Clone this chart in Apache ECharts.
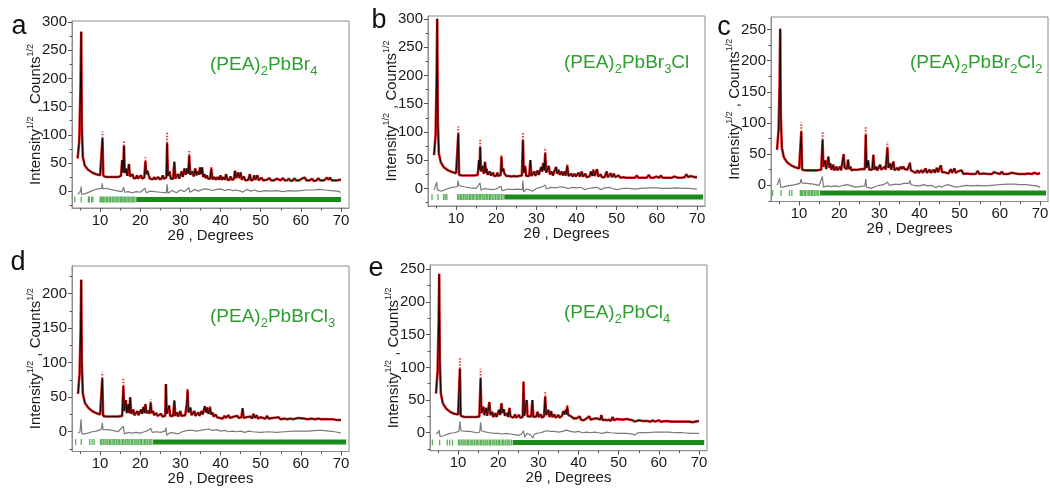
<!DOCTYPE html>
<html>
<head>
<meta charset="utf-8">
<script src="https://cdn.jsdelivr.net/npm/echarts@6/dist/echarts.min.js"></script>
<style>
html, body { margin: 0; padding: 0; background: #fff; }
#show { width: 1050px; height: 488px; }
</style>
</head>
<body>
<div id="show"></div>
<script>
var myChart = echarts.init(document.getElementById("show"));

// panel letters and compositions (rich text: s = subscript)
var letters = ["a", "b", "c", "d", "e"];
var formulas = [
    "{n|(PEA)}{s|2}{n|PbBr}{s|4}",
    "{n|(PEA)}{s|2}{n|PbBr}{s|3}{n|Cl}",
    "{n|(PEA)}{s|2}{n|PbBr}{s|2}{n|Cl}{s|2}",
    "{n|(PEA)}{s|2}{n|PbBrCl}{s|3}",
    "{n|(PEA)}{s|2}{n|PbCl}{s|4}"
];

// tick labels
var xTicks = [10, 20, 30, 40, 50, 60, 70];
var xMinor = [5, 15, 25, 35, 45, 55, 65];
var yTicksA = [0, 50, 100, 150, 200, 250, 300];
var yTicksB = [0, 50, 100, 150, 200, 250, 300];
var yTicksC = [0, 50, 100, 150, 200, 250];
var yTicksD = [0, 50, 100, 150, 200];
var yTicksE = [0, 50, 100, 150, 200, 250];
var yMinorA = [-25, 25, 75, 125, 175, 225, 275];
var yMinorB = [-25, 25, 75, 125, 175, 225, 275];
var yMinorC = [-25, 25, 75, 125, 175, 225];
var yMinorD = [-25, 25, 75, 125, 175, 225];
var yMinorE = [-25, 25, 75, 125, 175, 225];

// fitted profiles [2theta, sqrt(I)] (observed ~ calculated)
var profileA = [[4.4,58],[4.8,88],[5.1,180],[5.3,283],[5.45,115],[5.7,60],[6.2,45],[7,38],[8,33],[9,30],[10,28],[10.4,28],[10.6,94],[10.8,27],[11.5,25],[13,25],[14.5,25],[15.2,27],[15.5,55],[15.7,33],[15.95,80],[16.15,32],[16.5,40],[16.75,27],[17.2,48],[17.45,26],[17.8,25],[18.1,30],[18.35,23],[18.9,23],[19.2,28],[19.45,22],[19.9,22],[20.2,28],[20.45,22],[21.0,24],[21.3,53],[21.5,30],[21.8,36],[22.1,28],[22.4,22],[23.2,21],[23.5,25],[23.8,21],[24.2,21],[24.5,25],[24.8,21],[25.3,22],[25.6,28],[25.9,22],[26.5,24],[26.7,85],[26.9,27],[27.3,35],[27.6,22],[28.2,22],[28.5,52],[28.75,22],[29.1,23],[29.4,30],[29.7,22],[30.0,24],[30.3,35],[30.6,25],[31.0,40],[31.3,29],[31.6,40],[31.95,31],[32.2,63],[32.45,29],[33.0,35],[33.3,26],[33.7,40],[34.0,28],[34.3,35],[34.6,29],[34.9,42],[35.15,30],[35.4,42],[35.7,25],[36.0,30],[36.3,23],[36.6,28],[36.9,22],[37.4,22],[37.7,40],[38.0,21],[38.5,25],[38.8,20],[39.3,25],[39.6,20],[40.0,28],[40.3,20],[40.7,25],[41.0,20],[41.4,30],[41.7,20],[42.2,20],[42.5,26],[42.8,20],[43.3,21],[43.6,36],[43.9,23],[44.4,33],[44.7,23],[45.0,33],[45.3,20],[45.8,26],[46.2,19],[46.9,20],[47.3,30],[47.6,19],[48.1,20],[48.4,28],[48.7,20],[49.2,28],[49.5,19],[50.2,24],[50.6,19],[51.5,20],[52.2,23],[52.6,19],[53.3,19],[54.0,22],[54.4,19],[55.0,19],[55.5,23],[56.0,19],[56.5,19],[57.0,22],[57.5,18],[58.0,19],[58.4,23],[58.8,19],[59.6,19],[60.2,22],[60.6,19],[61.0,24],[61.4,19],[62.2,19],[62.8,22],[63.2,18],[63.9,19],[64.4,23],[64.8,19],[65.8,19],[66.5,24],[66.9,20],[67.3,24],[67.7,19],[68.3,19],[68.7,22],[69.1,19],[69.6,20],[70.0,20]];
var profileB = [[4.5,59],[4.9,95],[5.15,200],[5.3,300],[5.45,120],[5.7,62],[6.2,46],[7,37],[8,32],[9,29],[10,27],[10.35,26],[10.55,97],[10.75,24],[11.5,23],[13,23],[14.5,23],[15.4,24],[15.7,50],[15.85,34],[16.0,73],[16.2,30],[16.6,40],[16.85,26],[17.2,47],[17.45,27],[17.6,35],[17.85,24],[18.4,30],[18.65,23],[19.2,28],[19.45,22],[20.0,22],[20.3,28],[20.55,22],[21.1,24],[21.3,56],[21.5,30],[21.8,35],[22.0,27],[22.2,30],[22.5,22],[23.2,22],[23.5,25],[23.8,21],[24.4,22],[24.7,25],[25.0,21],[25.6,22],[26.0,25],[26.4,23],[26.65,85],[26.85,28],[27.2,40],[27.45,22],[28.2,22],[28.5,50],[28.75,22],[29.2,22],[29.5,30],[29.75,22],[30.3,32],[30.6,24],[31.2,38],[31.45,30],[31.7,45],[31.95,32],[32.2,62],[32.45,28],[33.1,40],[33.35,25],[33.8,30],[34.1,23],[34.9,38],[35.2,26],[35.5,33],[35.8,24],[36.3,30],[36.6,23],[37.0,30],[37.3,23],[37.7,40],[38.0,22],[38.7,26],[39.0,21],[39.5,26],[39.8,21],[40.5,28],[40.8,21],[41.3,30],[41.6,21],[42.2,26],[42.5,20],[43.2,21],[43.6,30],[43.9,22],[44.2,33],[44.5,22],[45.1,34],[45.4,21],[46.0,25],[46.3,20],[47.0,20],[47.5,30],[47.8,20],[48.5,27],[48.8,20],[49.3,26],[49.6,20],[50.5,23],[50.9,19],[51.6,20],[52.0,23],[52.4,19],[53.1,19],[53.5,22],[53.9,19],[54.6,19],[55.0,23],[55.4,19],[56.1,19],[56.5,22],[56.9,19],[57.5,19],[58.0,24],[58.4,19],[59.3,19],[59.8,21],[60.2,19],[60.6,19],[61.0,23],[61.4,19],[62.1,19],[62.5,21],[62.9,19],[63.8,19],[64.3,21],[64.7,19],[65.3,19],[65.7,22],[66.1,19],[66.9,20],[67.4,25],[67.8,20],[68.5,22],[68.9,20],[69.4,20],[69.8,21],[70.0,20]];
var profileC = [[4.5,57],[4.9,90],[5.15,170],[5.3,251],[5.45,110],[5.7,60],[6.2,45],[7,37],[8,32],[9,29],[10,27],[10.35,27],[10.55,86],[10.75,25],[11.5,24],[13,24],[14.5,24],[15.5,25],[15.85,73],[16.05,30],[16.5,40],[16.75,26],[17.3,46],[17.55,28],[17.8,35],[18.05,25],[18.5,33],[18.75,24],[19.3,30],[19.55,24],[20.2,30],[20.45,24],[20.9,26],[21.1,50],[21.35,28],[21.6,30],[21.9,26],[22.2,41],[22.45,26],[22.8,30],[23.05,24],[23.6,25],[23.9,23],[24.6,25],[24.9,23],[25.5,26],[25.8,23],[26.4,26],[26.6,81],[26.8,28],[27.2,40],[27.45,25],[28.2,25],[28.5,49],[28.75,25],[29.2,30],[29.45,24],[30.2,33],[30.45,25],[31.3,30],[31.55,25],[31.8,28],[32.0,60],[32.25,28],[32.7,35],[32.95,25],[33.5,38],[33.75,24],[34.5,28],[34.75,24],[35.3,30],[35.55,26],[36.0,30],[36.25,26],[36.7,28],[36.95,25],[37.35,27],[37.6,35],[37.85,24],[38.3,21],[39.0,20],[39.5,24],[39.8,20],[40.5,24],[40.8,20],[41.5,27],[41.8,20],[42.5,25],[42.8,20],[43.5,25],[43.8,20],[44.3,28],[44.6,21],[45.3,32],[45.6,21],[46.2,21],[47.2,19],[47.8,26],[48.1,20],[48.7,27],[49.0,20],[49.5,22],[49.8,19],[50.5,24],[50.9,18],[51.6,19],[52.0,20],[52.8,18],[54.0,18],[54.5,23],[54.9,18],[56.0,19],[57.0,18],[58.0,18],[58.5,21],[58.9,18],[60.0,18],[60.5,22],[60.9,18],[62.0,18],[63.0,20],[63.4,18],[64.6,18],[65.0,20],[65.4,18],[66.5,18],[67.0,19],[68.0,18],[68.5,20],[68.9,18],[69.5,18],[70.0,20]];
var profileD = [[4.5,55],[4.9,85],[5.15,150],[5.3,220],[5.45,100],[5.7,55],[6.2,42],[7,35],[8,30],[9,27],[10,25],[10.35,25],[10.55,77],[10.75,23],[11.5,22],[13,22],[14.5,22],[15.5,23],[15.8,66],[16.0,30],[16.4,46],[16.65,27],[17.0,40],[17.25,27],[17.5,50],[17.75,26],[18.3,32],[18.55,24],[19.3,30],[19.55,24],[20.2,32],[20.45,26],[20.8,36],[21.05,27],[21.3,40],[21.55,27],[22.1,30],[22.35,26],[22.6,42],[22.85,27],[23.2,30],[23.45,24],[24.0,27],[24.3,23],[25.2,26],[25.5,22],[26.2,23],[26.4,69],[26.6,26],[27.2,38],[27.45,23],[28.2,23],[28.5,45],[28.75,23],[29.2,28],[29.45,22],[30.0,30],[30.25,23],[31.2,24],[31.6,40],[31.8,60],[32.0,28],[32.5,35],[32.75,24],[33.5,30],[33.75,23],[34.5,28],[34.75,23],[35.3,30],[35.55,25],[36.1,37],[36.4,28],[36.7,35],[36.95,26],[37.4,35],[37.65,25],[38.0,28],[38.25,22],[38.8,25],[39.1,21],[39.5,23],[39.8,20],[40.2,22],[40.5,19],[41.0,23],[41.3,20],[42.0,24],[42.3,20],[43.4,22],[43.7,20],[44.2,23],[44.5,20],[45.2,21],[45.5,34],[45.75,20],[46.3,21],[46.7,19],[47.5,22],[47.8,19],[48.2,26],[48.5,20],[49.0,24],[49.3,19],[50.0,21],[50.4,19],[51.2,19],[51.6,23],[52.0,19],[53.0,20],[53.4,18],[54.5,21],[54.9,18],[56.0,19],[56.5,18],[57.5,19],[58.0,18],[59.3,20],[59.7,18],[61.0,19],[61.5,18],[62.8,19],[63.3,18],[64.5,19],[65.0,18],[66.0,18.5],[67.0,18],[68.0,18],[69.0,17],[70.0,17]];
var profileE = [[4.5,60],[4.9,95],[5.15,170],[5.3,243],[5.45,110],[5.7,60],[6.2,45],[7,37],[8,32],[9,29],[10,28],[10.25,28],[10.45,98],[10.65,26],[11.5,24],[13,24],[14.5,24],[15.3,25],[15.6,83],[15.8,30],[16.3,40],[16.55,27],[17.0,38],[17.25,26],[17.8,47],[18.05,27],[18.5,32],[18.75,24],[19.3,30],[19.55,24],[20.2,35],[20.45,27],[20.8,45],[21.05,30],[21.4,36],[21.65,26],[22.2,30],[22.45,24],[22.8,38],[23.05,25],[23.5,28],[23.75,23],[24.2,28],[24.45,23],[25.2,27],[25.45,23],[26.1,24],[26.3,78],[26.5,26],[27.1,50],[27.3,25],[28.2,25],[28.5,50],[28.75,24],[29.5,25],[29.8,32],[30.05,24],[30.6,28],[30.85,23],[31.4,25],[31.7,55],[31.95,27],[32.5,35],[32.75,24],[33.2,33],[33.45,24],[34.0,28],[34.25,23],[35.0,27],[35.25,23],[35.9,26],[36.2,33],[36.5,28],[36.8,35],[37.0,28],[37.2,40],[37.45,27],[37.9,30],[38.15,25],[38.5,28],[38.8,22],[39.5,22],[39.8,20],[40.3,25],[40.6,20],[41.0,22],[41.3,19],[42.0,22],[42.3,20],[42.7,25],[43.0,20],[43.5,21],[43.8,19],[44.5,22],[44.8,19],[45.4,20],[45.7,27],[46.0,19],[46.5,20],[47.0,19],[47.5,20],[48.0,18],[48.5,24],[48.8,19],[49.5,21],[49.9,18],[51.0,20],[51.4,18],[52.0,21],[52.4,18],[53.5,19],[54.0,17],[55.0,19],[56.0,18],[57.0,18],[58.0,17],[58.5,19],[59.0,17],[60.0,19],[60.5,17],[62.0,18],[63.0,17],[64.0,17],[65.0,17],[66.0,17],[67.5,17],[68.5,16],[69.0,17],[70.0,18]];

// peaks where observed points rise above the calculated line [2theta, calc, obs]
var obsTopsA = [[10.6,94,106],[15.95,80,90],[21.3,53,60],[26.7,85,104],[32.2,63,73],[37.7,40,46]];
var obsTopsB = [[10.55,97,110],[16.0,73,88],[21.3,56,60],[26.65,85,100],[32.2,62,73],[37.7,40,43]];
var obsTopsC = [[10.55,86,101],[15.85,73,86],[26.6,81,93],[32.0,60,70],[37.6,35,38]];
var obsTopsD = [[10.55,77,86],[15.8,66,77],[22.6,42,47],[31.8,60,63],[37.4,35,38]];
var obsTopsE = [[10.45,98,116],[15.6,83,98],[31.7,55,62],[37.2,40,44]];

// difference curves (obs - calc)
var diffA = [[4.4,-5],[4.9,-3],[5.2,3],[5.3,8],[5.4,-6],[5.8,-6],[6.5,-4],[7.5,-1],[8.5,2],[9.5,4],[10.4,5],[10.55,14],[10.7,4],[11.5,5],[12.5,3],[14,1],[15.4,-1],[15.9,7],[16.1,-2],[17,-1],[18,-3],[19,-1],[20,-2],[21.2,5],[21.5,-3],[22.5,0],[23.5,-1],[25,-2],[26.5,-3],[26.7,12],[26.9,-4],[28,1],[29,-3],[30,2],[31,-1],[32.1,6],[32.4,-2],[33.5,3],[34.5,0],[35.5,3],[36.5,4],[38,1],[39,3],[40,4],[41,1],[42,3],[43,1],[44,2],[45,0],[45.5,-2],[46.5,3],[47.5,0],[48.5,2],[49.5,-1],[51,1],[52.5,0],[54,1],[55.5,-1],[57,1],[58.5,0],[60,1],[61.5,2],[63,2],[64.5,3],[66,2],[67.5,1],[69,0],[70,-2]];
var diffB = [[4.5,-3],[4.9,-1],[5.15,11],[5.35,-2],[5.6,-4],[6.2,-5],[7,-3],[8,0],[9,2],[10.3,3],[10.5,14],[10.7,5],[12,3],[13.5,1],[15,0],[15.95,10],[16.2,-3],[17,0],[18,-1],[19,-2],[20,-1],[21.2,4],[21.4,-4],[22,-3],[23,-1],[24,-2],[25,-1],[26.5,-2],[26.65,14],[26.8,-6],[27.5,-1],[28.5,-3],[29,-5],[30,0],[31,2],[31.5,3],[32.2,6],[32.5,-1],[33.5,2],[35,1],[36,3],[37,2],[38,0],[39,2],[40,1],[41,2],[42,-2],[43,0],[44,1],[45,2],[46,-2],[47,1],[48,2],[49,0],[50,-2],[51.5,0],[53,0],[54.5,-1],[56,0],[58,1],[60,1],[61.5,0],[63,0],[65,1],[66.5,0],[68,0],[70,-1]];
var diffC = [[4.5,0],[4.9,1],[5.15,11],[5.4,-3],[6,-3],[7,-1],[8,0],[9,1],[10.2,3],[10.5,10],[10.7,4],[12,3],[13.5,2],[15,0],[15.8,14],[16.05,-3],[17,-1],[18,-2],[19,-1],[20,-2],[21,0],[22,1],[23,-1],[24,-3],[25,-2],[26.4,-1],[26.6,10],[26.8,-3],[28,-5],[29,-2],[30,0],[31,1],[32,5],[32.5,0],[34,2],[35,1],[36,3],[37.4,3],[37.6,8],[37.9,1],[38.5,0],[40,-1],[41,1],[42,-1],[43,0],[44,-4],[45,-1],[45.5,-3],[46.5,0],[47,1],[48,-1],[49,-3],[50,-2],[51.5,0],[53,-1],[54.5,0],[56,-1],[58,0],[60,1],[62,2],[63.5,2],[65,1],[66.5,1],[68,0],[69,-1],[70,-3]];
var diffD = [[4.5,-2],[5.0,0],[5.25,18],[5.45,-3],[6,-3],[7,-2],[8,0],[9,1],[10.3,3],[10.55,13],[10.75,3],[12,3],[13,2],[14.5,0],[15.8,8],[16.05,-3],[17,-1],[18,-2],[19,-1],[20,-2],[21,0],[22,2],[22.6,5],[23,-1],[24,0],[25,-1],[26.2,1],[26.4,6],[26.6,-5],[27.5,-1],[28.5,-2],[29.5,-3],[30.5,0],[31.8,2],[33,2],[34,1],[35,2],[36,3],[37,4],[38,2],[39,3],[40,1],[41,2],[42,0],[43,1],[44,0],[45,1],[46,-1],[47,1],[48,0],[50,-1],[52,0],[54,-1],[56,0],[58,1],[60,1],[62,1],[64,2],[65.5,2],[67,1],[68.5,0],[70,-2]];
var diffE = [[4.5,-2],[5.0,0],[5.25,4],[5.5,-6],[6.2,-5],[7,-3],[8,-1],[9,0],[10.2,2],[10.45,17],[10.7,3],[12,2],[13,2],[14.5,0],[15.4,1],[15.6,16],[15.85,3],[17,1],[18,0],[19,-1],[20,-1],[21,-2],[22,-1],[23,-2],[24,-3],[25,-4],[25.8,-2],[26.3,3],[26.6,-7],[27.2,-1],[28,-3],[28.6,-8],[29,-2],[29.5,-1],[30.5,0],[31,1],[32,3],[33,2],[34,2],[35,1],[36,2],[37,4],[38,2],[39,1],[40,2],[41,0],[42,1],[43,0],[44,1],[45,0],[46,-1],[47,1],[48,0],[50,-1],[52,-1],[53.5,-2],[54,-4],[54.5,-1],[55,0],[57,0],[59,1],[61,1],[62.5,1],[64,0],[66,0],[68,-1],[70,-1]];

// Bragg reflection positions (isolated) and the range where they merge into a band
var braggA = [3.7,5.3,7.1,7.3,7.9,8.2,10.0,10.3,10.6,10.9,11.2,11.6,11.9,12.3,12.6,13.0,13.3,13.7,14.0,14.4,14.7,15.1,15.4,15.7,16.0,16.3,16.7,17.0,17.3,17.7,18.0,18.3,18.7];
var braggB = [4.0,5.5,6.9,7.3,7.7,10.4,10.7,11.1,11.4,11.8,12.2,12.5,12.9,13.3,13.6,14.0,14.3,14.7,15.1,15.4,15.8,16.1,16.5,16.9,17.2,17.6,17.9,18.3,18.6,19.0,19.4,19.8,20.2,20.5,20.9,21.3,21.7];
var braggC = [3.4,5.5,7.6,8.2,10.3,10.6,10.9,11.3,11.6,12.0,12.4,12.7,13.1,13.4,13.8,14.2,14.5,14.9];
var braggD = [3.9,5.3,7.4,8.0,8.5,10.1,10.4,10.8,11.2,11.5,11.9,12.3,12.6,13.0,13.4,13.7,14.1,14.5,14.8,15.2,15.6,15.9,16.3,16.7,17.0,17.4,17.8,18.1,18.5,18.9,19.2,19.6,20.0,20.3,20.7,21.1,21.4,21.8,22.2,22.5,22.9];
var braggE = [3.6,5.4,7.3,7.9,8.6,10.1,10.4,10.8,11.2,11.5,11.9,12.3,12.6,13.0,13.4,13.7,14.1,14.5,14.8,15.2,15.6,15.9,16.3,16.7,17.0,17.4,17.8,18.1,18.5,18.9,19.2,19.6,20.0,20.3,20.7,21.1,21.4,21.8,22.2,22.5,22.9,23.3];
var bandA = [19.0, 70.0];
var bandB = [22.0, 71.5];
var bandC = [15.2, 71.5];
var bandD = [23.2, 71.3];
var bandE = [23.6, 71.3];

var FONT = "'Liberation Sans', Arial, sans-serif";
var GREEN = "#2e9e2e";
var TXT = "#1a1a1a";

// layout of the five panels (pixels)
var layout = [
    {left: 72,  top: 21,  width: 277, height: 187,   yMin: -30,   yMax: 302,   letter: [19, 27],  title: [210, 52],  braggY: -15},
    {left: 428, top: 16,  width: 277, height: 190,   yMin: -31,   yMax: 305,   letter: [379, 21], title: [564, 50],  braggY: -15},
    {left: 771, top: 17,  width: 277, height: 184.5, yMin: -26,   yMax: 270,   letter: [724, 28], title: [910, 50],  braggY: -12.5},
    {left: 72,  top: 266, width: 277, height: 185.5, yMin: -28.6, yMax: 240,   letter: [18, 263], title: [210, 304], braggY: -15},
    {left: 430, top: 265, width: 277, height: 185.7, yMin: -27.5, yMax: 256.6, letter: [376, 269], title: [564, 300], braggY: -15}
];

var profiles = [profileA, profileB, profileC, profileD, profileE];
var obsTops = [obsTopsA, obsTopsB, obsTopsC, obsTopsD, obsTopsE];
var diffs = [diffA, diffB, diffC, diffD, diffE];
var braggs = [braggA, braggB, braggC, braggD, braggE];
var bands = [bandA, bandB, bandC, bandD, bandE];
var yTicks = [yTicksA, yTicksB, yTicksC, yTicksD, yTicksE];
var yMinors = [yMinorA, yMinorB, yMinorC, yMinorD, yMinorE];

var grids = [], xAxes = [], yAxes = [], series = [], graphic = [];

layout.forEach(function (L, i) {
    grids.push({
        left: L.left, top: L.top, width: L.width, height: L.height,
        show: true, borderColor: "#8c8c8c", borderWidth: 1,
        containLabel: false, outerBoundsMode: "none"
    });

    xAxes.push({
        type: "value", gridIndex: i, min: 3, max: 72, position: "bottom",
        axisLine: {show: true, onZero: false, lineStyle: {color: "#8c8c8c"}},
        axisTick: {show: true, customValues: xTicks, length: 4, lineStyle: {color: "#555"}},
        axisLabel: {customValues: xTicks, margin: 5, fontSize: 15, color: TXT, fontFamily: FONT},
        splitLine: {show: false},
        name: "2θ , Degrees", nameLocation: "middle", nameGap: 20, nameMoveOverlap: false,
        nameTextStyle: {fontSize: 15, color: TXT, fontFamily: FONT}
    });
    xAxes.push({
        type: "value", gridIndex: i, min: 3, max: 72, position: "top", offset: -L.height,
        axisLine: {show: false, onZero: false},
        axisTick: {show: true, inside: true, customValues: xMinor, length: 2.5, lineStyle: {color: "#555"}},
        axisLabel: {show: false}, splitLine: {show: false}
    });

    yAxes.push({
        type: "value", gridIndex: i, min: L.yMin, max: L.yMax, position: "left",
        axisLine: {show: true, onZero: false, lineStyle: {color: "#8c8c8c"}},
        axisTick: {show: true, customValues: yTicks[i], length: 4, lineStyle: {color: "#555"}},
        axisLabel: {customValues: yTicks[i], margin: 5, fontSize: 15, color: TXT, fontFamily: FONT},
        splitLine: {show: false},
        name: "{n|Intensity}{s|1/2}{n| , Counts}{s|1/2}",
        nameLocation: "middle", nameRotate: 90, nameGap: 27, nameMoveOverlap: false,
        nameTextStyle: {
            rich: {
                n: {fontSize: 15, lineHeight: 18, verticalAlign: "middle", color: TXT, fontFamily: FONT},
                s: {fontSize: 9, lineHeight: 18, height: 8, verticalAlign: "top", color: TXT, fontFamily: FONT}
            }
        }
    });
    yAxes.push({
        type: "value", gridIndex: i, min: L.yMin, max: L.yMax, position: "right", offset: -L.width,
        axisLine: {show: false, onZero: false},
        axisTick: {show: true, inside: true, customValues: yMinors[i], length: 2.5, lineStyle: {color: "#555"}},
        axisLabel: {show: false}, splitLine: {show: false}
    });

    var xi = 2 * i, yi = 2 * i;

    // observed (red, thick)
    series.push({
        type: "line", xAxisIndex: xi, yAxisIndex: yi, data: profiles[i],
        showSymbol: false, silent: true, z: 2,
        lineStyle: {color: "#dc1e1e", width: 2.6}
    });
    // observed points above the fit at strong peaks
    series.push({
        type: "custom", xAxisIndex: xi, yAxisIndex: yi, data: obsTops[i], z: 3, silent: true,
        encode: {x: 0, y: [1, 2]},
        renderItem: function (params, api) {
            var p1 = api.coord([api.value(0), api.value(1)]);
            var p2 = api.coord([api.value(0), api.value(2)]);
            return {
                type: "line",
                shape: {x1: p1[0], y1: p1[1], x2: p2[0], y2: p2[1]},
                style: {stroke: "#e23a30", lineWidth: 2, lineDash: [1.5, 1.5]}
            };
        }
    });
    // calculated (black, thin)
    series.push({
        type: "line", xAxisIndex: xi, yAxisIndex: yi, data: profiles[i],
        showSymbol: false, silent: true, z: 4,
        lineStyle: {color: "#140404", width: 1}
    });
    // difference
    series.push({
        type: "line", xAxisIndex: xi, yAxisIndex: yi, data: diffs[i],
        showSymbol: false, silent: true, z: 2,
        lineStyle: {color: "#7a7a7a", width: 1.2}
    });
    // Bragg positions
    series.push({
        type: "line", xAxisIndex: xi, yAxisIndex: yi,
        data: [[bands[i][0], L.braggY], [bands[i][1], L.braggY]],
        showSymbol: false, silent: true, z: 2,
        lineStyle: {color: "#1b8a1b", width: 5}
    });
    series.push({
        type: "scatter", xAxisIndex: xi, yAxisIndex: yi,
        data: braggs[i].map(function (t) { return [t, L.braggY]; }),
        symbol: "rect", symbolSize: [1.3, 6], silent: true, z: 2,
        itemStyle: {color: "#2f9f2f"}
    });

    graphic.push({
        type: "text", x: L.letter[0], y: L.letter[1], silent: true,
        style: {text: letters[i], fontSize: 27, fontFamily: FONT, fill: "#111", align: "center", verticalAlign: "middle"}
    });
    graphic.push({
        type: "text", x: L.title[0], y: L.title[1], silent: true,
        style: {
            text: formulas[i], align: "left", verticalAlign: "top",
            rich: {
                n: {fontSize: 19, fontFamily: FONT, fill: GREEN, lineHeight: 26, verticalAlign: "middle"},
                s: {fontSize: 13, fontFamily: FONT, fill: GREEN, lineHeight: 26, height: 14, verticalAlign: "bottom"}
            }
        }
    });
});

myChart.setOption({
    animation: false,
    backgroundColor: "#fff",
    grid: grids,
    xAxis: xAxes,
    yAxis: yAxes,
    series: series,
    graphic: graphic
});
</script>
</body>
</html>
